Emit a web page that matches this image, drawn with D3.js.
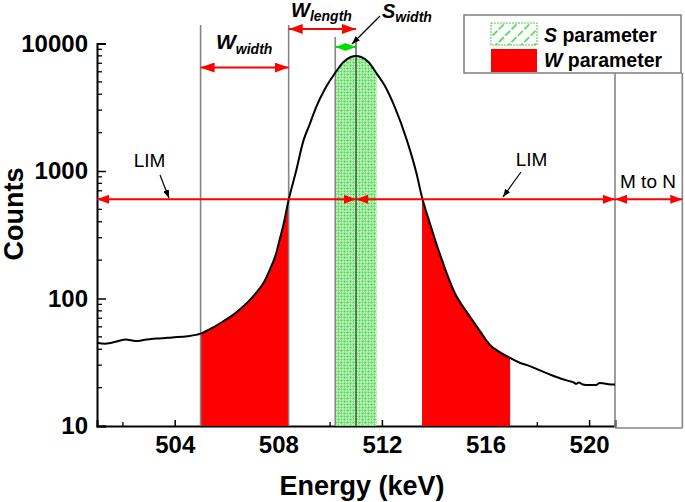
<!DOCTYPE html>
<html>
<head>
<meta charset="utf-8">
<script src="https://cdn.jsdelivr.net/npm/d3@7"></script>
<style>
  html, body { margin: 0; padding: 0; background: #fff; }
  svg { display: block; font-family: "Liberation Sans", Arial, sans-serif; }
</style>
</head>
<body>
<svg id="chart" width="685" height="502"></svg>
<script>
// ---------------- data ----------------
const energy = [501.0, 501.3, 501.6, 502.1, 502.5, 502.8, 503.1, 503.4, 503.9, 504.5,
  505.0, 505.5, 505.86, 506.2, 506.51, 506.85, 507.15, 507.45, 507.67, 507.9, 508.05, 508.2,
  508.4, 508.67, 508.98, 509.2, 509.47, 509.8, 510.2, 510.5, 510.8, 511.0, 511.2, 511.5,
  511.8, 512.1, 512.49, 512.96, 513.33, 513.55, 513.85, 514.1, 514.36, 514.6, 514.88, 515.1,
  515.39, 515.8, 516.16, 516.5, 516.95, 517.3, 517.71, 518.1, 518.48, 518.9, 519.2, 519.38,
  519.5, 519.6, 519.76, 520.0, 520.28, 520.4, 520.54, 520.75, 521.0];
const counts = [45, 44.2, 45.2, 47.6, 46.4, 47.2, 48.2, 48.6, 49.5, 50.6,
  53, 59.5, 66, 73, 82, 95, 111, 135, 168, 220, 289, 380,
  595, 968, 1755, 2290, 3200, 4400, 5900, 7100, 7840, 7980, 7840, 7100,
  5800, 4700, 3200, 1755, 968, 620, 391, 270, 190, 140, 104, 88,
  72.6, 55, 43.5, 38.5, 34.2, 31.5, 29.5, 27.3, 25.4, 23.6, 22.6, 22.1,
  21.4, 21.9, 21.2, 21.0, 21.0, 21.7, 21.6, 21.3, 21.2];

const xTicks = [504, 508, 512, 516, 520];
const xMinorTicks = [502, 506, 510, 514, 518];
const yTicks = [10, 100, 1000, 10000];
const xDomain = [501, 521];
const yDomain = [10, 10000];

const wLeft = [505, 508.4];        // W parameter, left window
const wRight = [513.55, 516.95];   // W parameter, right window
const sWindow = [510.2, 511.8];    // S parameter window
const peakE = 511;
const limCounts = 600;
const mToN = [521, 523.6];

// ---------------- layout ----------------
const svg = d3.select("#chart");
const FONT = "'Liberation Sans', Arial, sans-serif";
const x = d3.scaleLinear().domain(xDomain).range([97, 615]);
const y = d3.scaleLog().domain(yDomain).range([426, 43.5]);

const pts = energy.map((e, i) => ({e, c: counts[i]}));

// patterns
const defs = svg.append("defs");
const sp = defs.append("pattern").attr("id", "speckle").attr("patternUnits", "userSpaceOnUse")
  .attr("width", 6).attr("height", 6);
sp.append("rect").attr("width", 6).attr("height", 6).attr("fill", "#8cec8c");
const specks = [[0,0,"#ffffff"],[3,1,"#e8fbe8"],[1,3,"#ffffff"],[4,4,"#ffffff"],[5,2,"#33d233"],
  [2,5,"#33d233"],[0,4,"#c8f6c8"],[2,2,"#44d844"],[4,0,"#d4f8d4"],[5,5,"#50dc50"],[1,1,"#b0f0b0"],[3,3,"#ffffff"]];
specks.forEach(s => sp.append("rect").attr("x", s[0]).attr("y", s[1]).attr("width", 1).attr("height", 1).attr("fill", s[2]));

const hatch = defs.append("pattern").attr("id", "hatch").attr("patternUnits", "userSpaceOnUse")
  .attr("width", 9).attr("height", 9).attr("patternTransform", "rotate(-45)");
hatch.append("rect").attr("width", 9).attr("height", 9).attr("fill", "#fff");
hatch.append("line").attr("x1", 0).attr("y1", 4.5).attr("x2", 9).attr("y2", 4.5)
  .attr("stroke", "#3ccc3c").attr("stroke-width", 1.3).attr("stroke-dasharray", "6,2");

// markers
function addMarker(id, color, w, h) {
  const m = defs.append("marker").attr("id", id).attr("viewBox", `0 0 ${w} ${h}`)
    .attr("refX", w).attr("refY", h / 2).attr("markerWidth", w).attr("markerHeight", h)
    .attr("markerUnits", "userSpaceOnUse").attr("orient", "auto-start-reverse");
  m.append("path").attr("d", `M0,0 L${w},${h/2} L0,${h} Z`).attr("fill", color);
}
addMarker("redHead", "#ff0000", 12, 9);
addMarker("redHeadBig", "#ff0000", 14, 10);
addMarker("greenHead", "#00dd00", 11, 8);
addMarker("blackHead", "#000", 8, 6);

// ---------------- axes ----------------
const yAxis = svg.append("g").attr("transform", `translate(${x(xDomain[0])},0)`)
  .call(d3.axisLeft(y).tickValues(yTicks).tickFormat(d3.format("d")).tickSize(-9).tickPadding(9));
const minorY = [];
[10, 100, 1000].forEach(b => { for (let k = 2; k <= 9; k++) minorY.push(b * k); });
svg.append("g").selectAll("line").data(minorY).join("line")
  .attr("x1", x(xDomain[0])).attr("x2", x(xDomain[0]) + 5)
  .attr("y1", d => y(d)).attr("y2", d => y(d)).attr("stroke", "#000").attr("stroke-width", 1.3);

const xAxis = svg.append("g").attr("transform", `translate(0,${y(yDomain[0])})`)
  .call(d3.axisBottom(x).tickValues(xTicks).tickFormat(d3.format("d")).tickSize(-6).tickPadding(10));
svg.append("g").selectAll("line").data(xMinorTicks).join("line")
  .attr("x1", d => x(d)).attr("x2", d => x(d))
  .attr("y1", y(yDomain[0])).attr("y2", y(yDomain[0]) - 4).attr("stroke", "#000").attr("stroke-width", 1.3);

[yAxis, xAxis].forEach(g => {
  g.select(".domain").attr("stroke", "#000").attr("stroke-width", 2);
  g.selectAll(".tick line").attr("stroke", "#000").attr("stroke-width", 1.5);
  g.selectAll(".tick text").attr("font-family", FONT).attr("font-size", 24).attr("font-weight", "bold").attr("fill", "#000");
});

// ---------------- fills ----------------
const area = d3.area().x(d => x(d.e)).y0(y(yDomain[0])).y1(d => y(d.c));
const inRange = r => pts.filter(p => p.e >= r[0] - 1e-9 && p.e <= r[1] + 1e-9);
svg.append("path").attr("d", area(inRange(wLeft))).attr("fill", "#ff0000");
svg.append("path").attr("d", area(inRange(wRight))).attr("fill", "#ff0000");
svg.append("path").attr("d", area(inRange(sWindow))).attr("fill", "url(#speckle)");

// ---------------- vertical guide lines ----------------
const gray = "#858585";
function vline(e, y1, y2, color, w) {
  svg.append("line").attr("x1", x(e)).attr("x2", x(e)).attr("y1", y1).attr("y2", y2)
    .attr("stroke", color).attr("stroke-width", w);
}
vline(wLeft[0], 25, y(yDomain[0]), gray, 1.6);
vline(wLeft[1], 25, y(yDomain[0]), gray, 1.6);
vline(sWindow[0], 37, y(yDomain[0]), gray, 1.6);
vline(peakE, 37, y(yDomain[0]), "#222", 1.1);
vline(mToN[0], 73, 428, gray, 1.6);
vline(mToN[1], 73, 428, gray, 1.6);
svg.append("line").attr("x1", x(mToN[0])).attr("x2", x(mToN[1])).attr("y1", 428).attr("y2", 428)
  .attr("stroke", gray).attr("stroke-width", 1.6);

// ---------------- spectrum curve ----------------
svg.append("path").attr("d", d3.line().x(d => x(d.e)).y(d => y(d.c)).curve(d3.curveMonotoneX)(pts))
  .attr("fill", "none").attr("stroke", "#000").attr("stroke-width", 2);

// ---------------- arrows ----------------
function dArrow(e1, e2, yy, color, marker, w) {
  svg.append("line").attr("x1", x(e1)).attr("x2", x(e2)).attr("y1", yy).attr("y2", yy)
    .attr("stroke", color).attr("stroke-width", w)
    .attr("marker-start", `url(#${marker})`).attr("marker-end", `url(#${marker})`);
}
const yLim = y(limCounts);
dArrow(xDomain[0], peakE, yLim, "#ff0000", "redHead", 2);
dArrow(peakE, xDomain[1], yLim, "#ff0000", "redHead", 2);
dArrow(mToN[0], mToN[1], yLim, "#ff0000", "redHead", 2);
dArrow(wLeft[0], wLeft[1], 67.5, "#ff0000", "redHeadBig", 2);
dArrow(wLeft[1], peakE, 29, "#ff0000", "redHeadBig", 2);
dArrow(sWindow[0], peakE, 47, "#00dd00", "greenHead", 2);

function pointer(x1, y1, x2, y2) {
  svg.append("line").attr("x1", x1).attr("y1", y1).attr("x2", x2).attr("y2", y2)
    .attr("stroke", "#000").attr("stroke-width", 1.2).attr("marker-end", "url(#blackHead)");
}
pointer(160, 175, 169, 198);
pointer(521, 172, 503, 197);
pointer(380, 16, 352, 44);

// ---------------- labels ----------------
function label(xx, yy, txt, size, anchor, weight) {
  return svg.append("text").attr("x", xx).attr("y", yy).attr("font-family", FONT)
    .attr("font-size", size).attr("font-weight", weight || "normal")
    .attr("text-anchor", anchor || "start").attr("fill", "#000").text(txt);
}
label(149.5, 167, "LIM", 19, "middle");
label(531.5, 166, "LIM", 19, "middle");
label(648, 188, "M to N", 19, "middle");

function subLabel(xx, yy, main, sub, size, subSize, dy) {
  const t = svg.append("text").attr("x", xx).attr("y", yy).attr("font-family", FONT)
    .attr("font-weight", "bold").attr("font-style", "italic").attr("fill", "#000");
  t.append("tspan").attr("font-size", size).text(main);
  t.append("tspan").attr("font-size", subSize).attr("dy", dy).text(sub);
}
subLabel(216, 49, "W", "width", 21, 14, 5);
subLabel(291, 17, "W", "length", 20, 14, 4);
subLabel(382, 18, "S", "width", 20, 14, 4);

// axis titles
label(362, 495, "Energy (keV)", 27, "middle", "bold");
svg.append("text").attr("transform", "translate(23,214) rotate(-90)").attr("text-anchor", "middle")
  .attr("font-family", FONT).attr("font-size", 27).attr("font-weight", "bold").text("Counts");

// ---------------- legend ----------------
const lg = svg.append("g");
lg.append("rect").attr("x", 464).attr("y", 15).attr("width", 217).attr("height", 58)
  .attr("fill", "#fff").attr("stroke", gray).attr("stroke-width", 1.6);
lg.append("rect").attr("x", 491).attr("y", 23).attr("width", 46).attr("height", 22)
  .attr("fill", "url(#hatch)").attr("stroke", "#44d044").attr("stroke-width", 1).attr("stroke-dasharray", "2,1");
lg.append("rect").attr("x", 491).attr("y", 49).attr("width", 46).attr("height", 23).attr("fill", "#ff0000");
function legText(yy, letter, rest) {
  const t = lg.append("text").attr("x", 544).attr("y", yy).attr("font-family", FONT)
    .attr("font-size", 19.5).attr("font-weight", "bold").attr("fill", "#000");
  t.append("tspan").attr("font-style", "italic").text(letter);
  t.append("tspan").text(" " + rest);
}
legText(42, "S", "parameter");
legText(67, "W", "parameter");
</script>
</body>
</html>
